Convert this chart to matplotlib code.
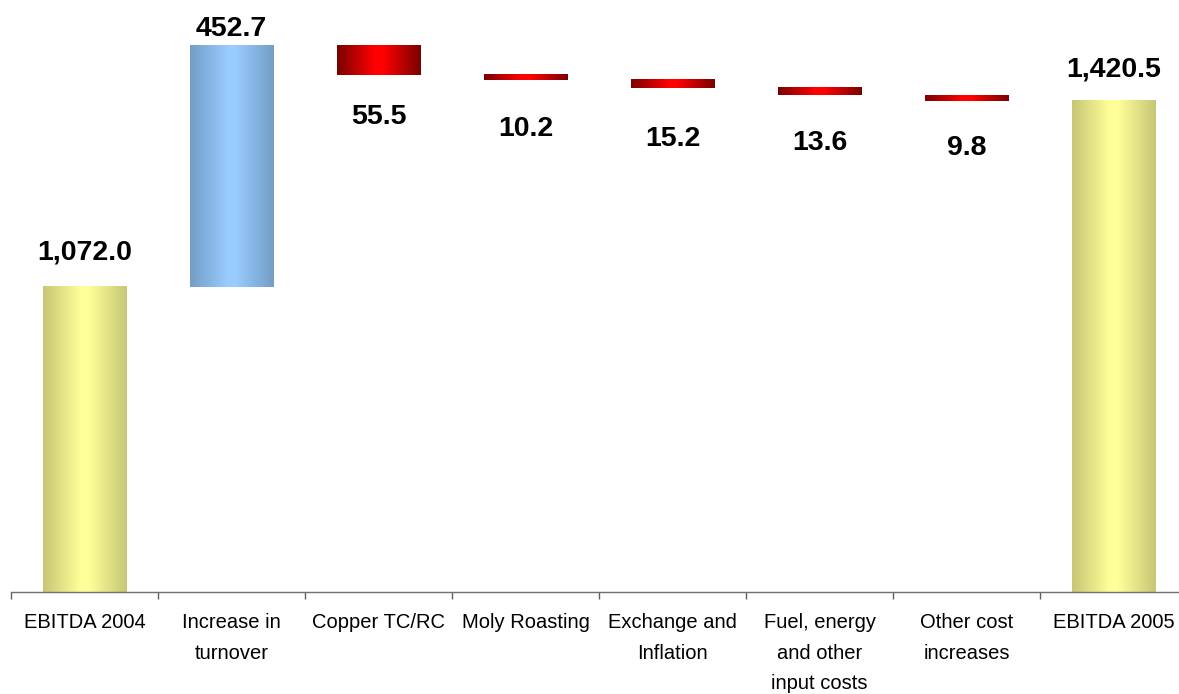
#!/usr/bin/env python
# coding: utf-8

import numpy as np
import matplotlib
matplotlib.use('Agg')
import matplotlib.pyplot as plt
from matplotlib.colors import LinearSegmentedColormap
from matplotlib.ticker import FixedLocator

categories = ['EBITDA 2004', 'Increase in\nturnover', 'Copper TC/RC', 'Moly Roasting',
              'Exchange and\nInflation', 'Fuel, energy\nand other\ninput costs',
              'Other cost\nincreases', 'EBITDA 2005']
values = [1072.0, 452.7, -55.5, -10.2, -15.2, -13.6, -9.8, 1420.5]
kinds = ['total', 'up', 'down', 'down', 'down', 'down', 'down', 'total']

# gap between bar end and its label, in pixels (as placed in the original)
label_gap = [27, 9, 29, 36, 38, 35, 34, 24]

shades = {
    'total': ('#c6c675', '#ffff99'),
    'up': ('#739dc6', '#99ccff'),
    'down': ('#7a0000', '#ff0000'),
}


def gradient_bar(axis, x, y0, y1, width, edge, centre):
    cmap = LinearSegmentedColormap.from_list(
        'bar', [(0.0, edge), (0.45, centre), (0.55, centre), (1.0, edge)])
    axis.imshow(np.linspace(0, 1, 256)[None, :], cmap=cmap, aspect='auto',
                extent=[x - width / 2, x + width / 2, y0, y1], zorder=2,
                interpolation='bilinear')


def main():
    plt.rcParams['font.family'] = ['Liberation Sans', 'DejaVu Sans']

    fig = plt.figure(figsize=(11.79, 6.94), dpi=100)
    axis = fig.add_axes([11 / 1179, 102 / 694, 1176 / 1179, 592 / 694])

    width = 0.57
    running = 0.0
    for i, (val, kind) in enumerate(zip(values, kinds)):
        if kind == 'total':
            y0, y1 = 0.0, val
            running = val
        else:
            y0, y1 = running, running + val
            running += val
        gradient_bar(axis, i, min(y0, y1), max(y0, y1), width, *shades[kind])

        if kind == 'total':
            text = '{:,.1f}'.format(val)
        else:
            text = '{:.1f}'.format(abs(val))
        if kind == 'down':
            axis.annotate(text, (i, min(y0, y1)), xytext=(0, -label_gap[i]),
                          textcoords='offset pixels', ha='center', va='top',
                          fontsize=20.5, fontweight='bold')
        else:
            axis.annotate(text, (i, max(y0, y1)), xytext=(0, label_gap[i]),
                          textcoords='offset pixels', ha='center', va='baseline',
                          fontsize=20.5, fontweight='bold')

    axis.set_xlim(-0.5, len(categories) - 0.5)
    axis.set_ylim(500, 1609)

    axis.set_xticks(range(len(categories)))
    axis.set_xticklabels(categories, fontsize=14.5, linespacing=1.78)
    axis.xaxis.set_minor_locator(FixedLocator(np.arange(-0.5, len(categories), 1.0)))
    axis.tick_params(axis='x', which='major', length=0, pad=15)
    axis.tick_params(axis='x', which='minor', length=5, color='#606060', width=1)
    axis.set_yticks([])

    for side in ['left', 'right', 'top']:
        axis.spines[side].set_visible(False)
    axis.spines['bottom'].set_color('#707070')
    axis.spines['bottom'].set_linewidth(1)

    fig.savefig('out.png', dpi=100)


if __name__ == '__main__':
    main()
